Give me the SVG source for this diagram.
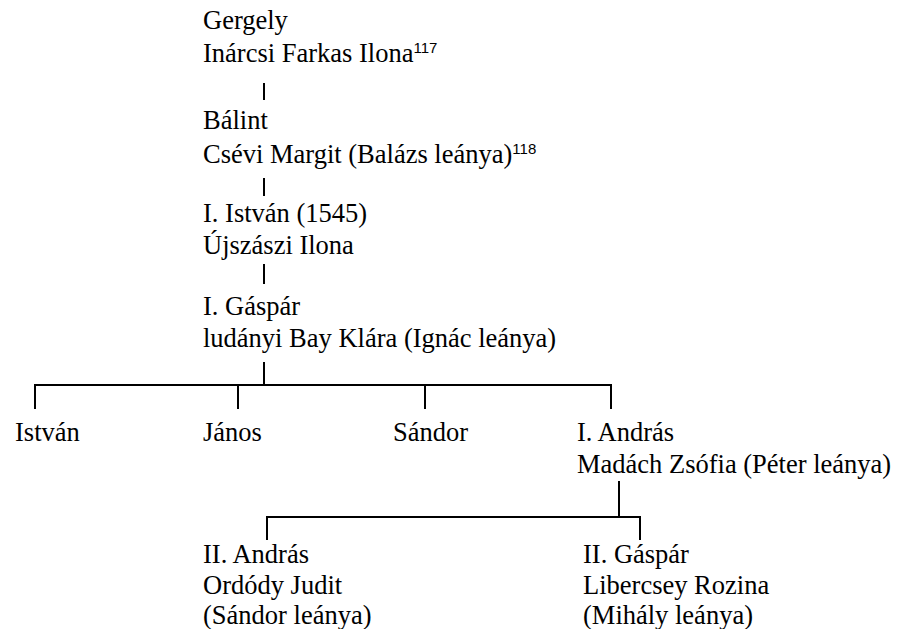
<svg xmlns="http://www.w3.org/2000/svg" width="903" height="629" viewBox="0 0 903 629">
<style>
text{font-family:"Liberation Serif","Times New Roman",serif;font-size:26.5px;fill:#000}
.sup{font-family:"Liberation Sans",Arial,sans-serif;font-size:15px}
.c line{stroke:#000;stroke-width:2;fill:none}
</style>
<rect width="903" height="629" fill="#fff"/>
<g class="c" id="connectors">
<line x1="264" y1="83" x2="264" y2="100"/>
<line x1="264" y1="178" x2="264" y2="196"/>
<line x1="264" y1="264" x2="264" y2="284"/>
<line x1="264" y1="362" x2="264" y2="385"/>
<line x1="34" y1="385" x2="612" y2="385"/>
<line x1="35" y1="384" x2="35" y2="409"/>
<line x1="238" y1="385" x2="238" y2="409"/>
<line x1="425" y1="385" x2="425" y2="409"/>
<line x1="611" y1="384" x2="611" y2="409"/>
<line x1="619" y1="481" x2="619" y2="517"/>
<line x1="266" y1="517" x2="641" y2="517"/>
<line x1="267" y1="516" x2="267" y2="540"/>
<line x1="640" y1="516" x2="640" y2="540"/>
</g>
<g id="gergely"><text x="203" y="29">Gergely</text><text x="203" y="62">Inárcsi Farkas Ilona<tspan class="sup" dy="-9">117</tspan></text></g>
<g id="balint"><text x="203" y="129">Bálint</text><text x="203" y="163">Csévi Margit (Balázs leánya)<tspan class="sup" dy="-9">118</tspan></text></g>
<g id="istvan1"><text x="203" y="222">I. István (1545)</text><text x="203" y="254">Újszászi Ilona</text></g>
<g id="gaspar1"><text x="203" y="315">I. Gáspár</text><text x="203" y="347">ludányi Bay Klára (Ignác leánya)</text></g>
<g id="istvan"><text x="15" y="441">István</text></g>
<g id="janos"><text x="203" y="441">János</text></g>
<g id="sandor"><text x="393" y="441">Sándor</text></g>
<g id="andras1"><text x="577" y="441">I. András</text><text x="577" y="473">Madách Zsófia (Péter leánya)</text></g>
<g id="andras2"><text x="203" y="563">II. András</text><text x="203" y="594">Ordódy Judit</text><text x="203" y="624">(Sándor leánya)</text></g>
<g id="gaspar2"><text x="583" y="563">II. Gáspár</text><text x="583" y="594">Libercsey Rozina</text><text x="583" y="624">(Mihály leánya)</text></g>
</svg>
